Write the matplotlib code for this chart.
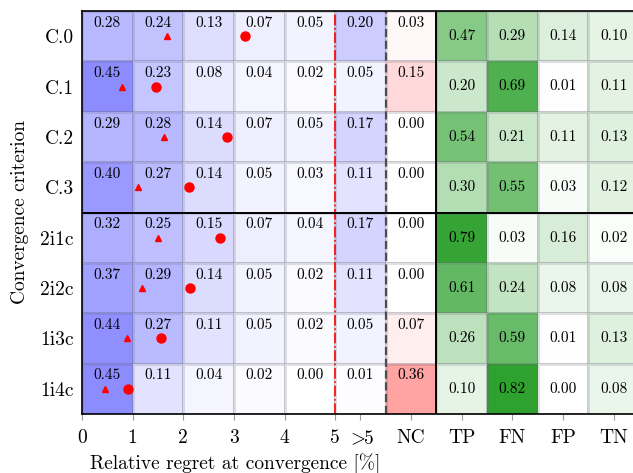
import numpy as np
import matplotlib
matplotlib.use("Agg")
import matplotlib.pyplot as plt
from matplotlib.colors import LinearSegmentedColormap

plt.rcParams["font.family"] = ["cmr10", "DejaVu Serif"]
plt.rcParams["mathtext.fontset"] = "cm"
plt.rcParams["axes.formatter.use_mathtext"] = True
plt.rcParams["axes.unicode_minus"] = False

# rows of the table
criteria = ["C.0", "C.1", "C.2", "C.3", "2i1c", "2i2c", "1i3c", "1i4c"]

# share of runs per regret bin: 0-1, 1-2, 2-3, 3-4, 4-5, >5 %
regret = np.array([
    [0.28, 0.24, 0.13, 0.07, 0.05, 0.20],
    [0.45, 0.23, 0.08, 0.04, 0.02, 0.05],
    [0.29, 0.28, 0.14, 0.07, 0.05, 0.17],
    [0.40, 0.27, 0.14, 0.05, 0.03, 0.11],
    [0.32, 0.25, 0.15, 0.07, 0.04, 0.17],
    [0.37, 0.29, 0.14, 0.05, 0.02, 0.11],
    [0.44, 0.27, 0.11, 0.05, 0.02, 0.05],
    [0.45, 0.11, 0.04, 0.02, 0.00, 0.01],
])
# not converged
nc = np.array([0.03, 0.15, 0.00, 0.00, 0.00, 0.00, 0.07, 0.36])
# TP, FN, FP, TN
conf = np.array([
    [0.47, 0.29, 0.14, 0.10],
    [0.20, 0.69, 0.01, 0.11],
    [0.54, 0.21, 0.11, 0.13],
    [0.30, 0.55, 0.03, 0.12],
    [0.79, 0.03, 0.16, 0.02],
    [0.61, 0.24, 0.08, 0.08],
    [0.26, 0.59, 0.01, 0.13],
    [0.10, 0.82, 0.00, 0.08],
])
conf_names = ["TP", "FN", "FP", "TN"]

# red markers (regret in %)
tri_x = [1.67, 0.79, 1.61, 1.10, 1.50, 1.19, 0.89, 0.45]
circ_x = [3.21, 1.46, 2.87, 2.12, 2.72, 2.14, 1.57, 0.90]

blues = LinearSegmentedColormap.from_list("b", ["white", (0, 0, 1)])
reds = LinearSegmentedColormap.from_list("r", ["white", (1, 0, 0)])
greens = LinearSegmentedColormap.from_list("g", ["white", (0, 0.55, 0)])

fig = plt.figure(figsize=(6.33, 4.73), dpi=100)
ax = fig.add_axes([0.1295, 0.1247, 0.88, 0.852])

n = len(criteria)
y_edges = np.arange(n + 1)
edge = (0.4, 0.4, 0.45, 0.2)

ax.pcolormesh(np.arange(7), y_edges, regret, cmap=blues, vmin=0, vmax=1,
              edgecolors=edge, linewidth=0.8)
ax.pcolormesh([6, 7], y_edges, nc[:, None], cmap=reds, vmin=0, vmax=1,
              edgecolors=edge, linewidth=0.8)
ax.pcolormesh(np.arange(7, 12), y_edges, conf, cmap=greens, vmin=0, vmax=1,
              edgecolors=edge, linewidth=0.8)

for i in range(n):
    for j in range(6):
        ax.text(j + 0.5, i + 0.1, f"{regret[i, j]:.2f}", ha="center", va="top",
                fontsize=11)
    ax.text(6.5, i + 0.1, f"{nc[i]:.2f}", ha="center", va="top", fontsize=11)
    for j in range(4):
        ax.text(7.5 + j, i + 0.5, f"{conf[i, j]:.2f}", ha="center", va="center",
                fontsize=11)

rows = np.arange(n) + 0.5
ax.plot(tri_x, rows, "^", color="red", ms=5, ls="none")
ax.plot(circ_x, rows, "o", color="red", ms=6.5, ls="none")

ax.axvline(5, color="red", ls="-.", lw=1.2)
ax.axvline(6, color="0.3", ls="--", lw=1.6)
ax.axvline(7, color="black", lw=1.4)
ax.axhline(4, color="black", lw=1.4)

ax.set_xlim(0, 11)
ax.set_ylim(n, 0)
ax.set_xticks([0, 1, 2, 3, 4, 5, 5.5, 6.5, 7.5, 8.5, 9.5, 10.5])
ax.set_xticklabels(["0", "1", "2", "3", "4", "5", r"$>\!\!$5", "NC"] + conf_names,
                   fontsize=14)
ax.set_yticks(rows)
ax.set_yticklabels(criteria, fontsize=14)
ax.tick_params(axis="x", direction="out", length=4, color="0.6", pad=7)
ax.tick_params(axis="y", length=0, pad=6)
for s in ax.spines.values():
    s.set_linewidth(1.2)

fig.text(90 / 633, 1 - 469 / 473, "Relative regret at convergence [%]",
         fontsize=14, ha="left", va="baseline")
fig.text(20 / 633, 1 - 212 / 473, "Convergence criterion", fontsize=14,
         rotation=90, ha="center", va="center")

fig.savefig("out.png", dpi=100)
